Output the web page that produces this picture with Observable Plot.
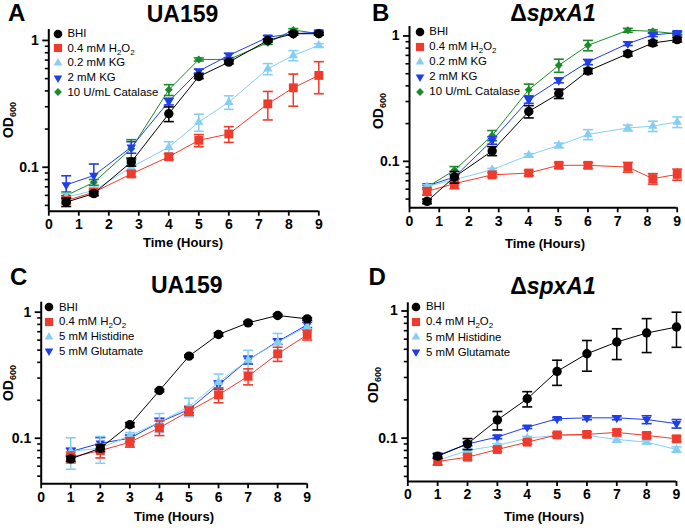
<!DOCTYPE html>
<html><head><meta charset="utf-8">
<script src="https://cdn.jsdelivr.net/npm/d3@7"></script>
<script src="https://cdn.jsdelivr.net/npm/@observablehq/plot@0.6"></script>
<style>
body{margin:0;background:#fff;}
#fig{position:relative;width:685px;height:530px;overflow:hidden;font-family:'Liberation Sans',Arial,Helvetica,sans-serif;color:#000;background:#fff;}
.panel{position:absolute;}
.txt{position:absolute;white-space:nowrap;line-height:1;}
.sub{font-size:8px;position:relative;top:3px;}
.ysub{font-size:9px;position:relative;top:3px;}
</style></head><body><div id="fig"></div>
<script>
// ---------- data ----------
const timesA = [0.58, 1.5, 2.75, 4, 5, 6, 7.3, 8.15, 9];
const timesB = [0.59, 1.51, 2.78, 4.01, 5.02, 6, 7.34, 8.18, 9];
const timesCD = [1, 2, 3, 4, 5, 6, 7, 8, 9];

const labelsAB = ["BHI", "0.4 mM H2O2", "0.2 mM KG", "2 mM KG", "10 U/mL Catalase"];
const labelsCD = ["BHI", "0.4 mM H2O2", "5 mM Histidine", "5 mM Glutamate"];
const colorsAB = ["#000000", "#ef3b2c", "#86cff2", "#1f3de8", "#1c8a2a"];
const colorsCD = ["#000000", "#ef3b2c", "#86cff2", "#1f3de8"];
const symbolsAB = ["circle", "square", "triangle", "triangle-down", "diamond"];
const symbolsCD = ["circle", "square", "triangle", "triangle-down"];

const titles = ["UA159", "\u0394<i>spxA1</i>", "UA159", "\u0394<i>spxA1</i>"];
const panelLetters = ["A", "B", "C", "D"];
const xLabel = "Time (Hours)";
const yLabel = "OD<span class='ysub'>600</span>";

const xTicks = [0, 1, 2, 3, 4, 5, 6, 7, 8, 9];
const yMajorTicks = [0.1, 1];
const yMajorLabels = ["0.1", "1"];
const yMinorTicks = [0.05, 0.06, 0.07, 0.08, 0.09, 0.2, 0.3, 0.4, 0.5, 0.6, 0.7, 0.8, 0.9];

// Panel A (UA159)
const aBHI     = [0.053, 0.062, 0.11, 0.264, 0.52, 0.674, 1.0, 1.13, 1.13];
const aBHIerr  = [0.004, 0.002, 0.008, 0.035, 0.02, 0.02, 0.03, 0.03, 0.03];
const aH2O2    = [0.0546, 0.0635, 0.0885, 0.121, 0.163, 0.183, 0.316, 0.423, 0.53];
const aH2O2err = [0.003, 0.004, 0.005, 0.006, 0.018, 0.026, 0.08, 0.12, 0.15];
const aKG02    = [0.058, 0.0655, 0.1, 0.144, 0.227, 0.326, 0.597, 0.762, 0.913];
const aKG02err = [0.004, 0.004, 0.006, 0.015, 0.035, 0.04, 0.06, 0.07, 0.03];
const aKG2     = [0.0726, 0.086, 0.144, 0.33, 0.573, 0.762, 1.06, 1.13, 1.16];
const aKG2err  = [0.013, 0.02, 0.015, 0.02, 0.02, 0.03, 0.03, 0.03, 0.04];
const aCat     = [0.0598, 0.076, 0.14, 0.408, 0.708, 0.708, 0.96, 1.21, 1.13];
const aCaterr  = [0.004, 0.004, 0.025, 0.04, 0.02, 0.02, 0.03, 0.03, 0.03];

// Panel B (ΔspxA1)
const bBHI     = [0.048, 0.075, 0.121, 0.25, 0.347, 0.526, 0.722, 0.879, 0.935];
const bBHIerr  = [0.002, 0.008, 0.01, 0.028, 0.03, 0.025, 0.03, 0.04, 0.04];
const bH2O2    = [0.0576, 0.0664, 0.078, 0.0807, 0.093, 0.093, 0.09, 0.0728, 0.0787];
const bH2O2err = [0.004, 0.006, 0.003, 0.004, 0.005, 0.005, 0.008, 0.007, 0.008];
const bKG02    = [0.063, 0.0714, 0.0858, 0.112, 0.134, 0.164, 0.1845, 0.191, 0.206];
const bKG02err = [0.002, 0.002, 0.002, 0.003, 0.006, 0.015, 0.01, 0.018, 0.02];
const bKG2     = [0.0636, 0.075, 0.147, 0.31, 0.443, 0.62, 0.869, 1.02, 1.06];
const bKG2err  = [0.002, 0.003, 0.01, 0.02, 0.02, 0.03, 0.03, 0.03, 0.03];
const bCat     = [0.0624, 0.0848, 0.161, 0.373, 0.583, 0.842, 1.11, 1.09, 1.04];
const bCaterr  = [0.002, 0.006, 0.015, 0.04, 0.07, 0.08, 0.04, 0.03, 0.03];

// Panel C (UA159)
const cBHI     = [0.0686, 0.0833, 0.128, 0.239, 0.448, 0.665, 0.823, 0.942, 0.885];
const cBHIerr  = [0.003, 0.005, 0.005, 0.005, 0.01, 0.02, 0.02, 0.02, 0.02];
const cH2O2    = [0.0707, 0.0798, 0.093, 0.121, 0.164, 0.221, 0.31, 0.467, 0.661];
const cH2O2err = [0.007, 0.01, 0.008, 0.016, 0.012, 0.03, 0.045, 0.06, 0.06];
const cHis     = [0.0788, 0.0833, 0.105, 0.134, 0.178, 0.278, 0.418, 0.578, 0.77];
const cHiserr  = [0.022, 0.02, 0.006, 0.023, 0.03, 0.045, 0.08, 0.1, 0.08];
const cGlu     = [0.0784, 0.0912, 0.1, 0.134, 0.169, 0.265, 0.418, 0.585, 0.794];
const cGluerr  = [0.005, 0.01, 0.006, 0.01, 0.01, 0.02, 0.03, 0.03, 0.04];

// Panel D (ΔspxA1)
const dBHI     = [0.0722, 0.0902, 0.139, 0.204, 0.335, 0.461, 0.57, 0.671, 0.748];
const dBHIerr  = [0.003, 0.009, 0.023, 0.028, 0.075, 0.125, 0.155, 0.2, 0.23];
const dH2O2    = [0.0655, 0.0708, 0.0814, 0.093, 0.106, 0.107, 0.111, 0.105, 0.0988];
const dH2O2err = [0.004, 0.003, 0.003, 0.003, 0.004, 0.005, 0.005, 0.005, 0.005];
const dHis     = [0.0667, 0.08, 0.0875, 0.1, 0.105, 0.105, 0.0977, 0.093, 0.0814];
const dHiserr  = [0.005, 0.003, 0.003, 0.003, 0.003, 0.003, 0.005, 0.003, 0.004];
const dGlu     = [0.073, 0.09, 0.102, 0.122, 0.142, 0.1445, 0.1445, 0.14, 0.13];
const dGluerr  = [0.003, 0.003, 0.003, 0.003, 0.003, 0.005, 0.005, 0.01, 0.01];

// ---------- layout ----------
const panels = [
  {left: 0,   top: 0,   w: 342, h: 265, mL: 48.3, mR: 23.7, mT: 29,   mB: 54.3, yDomain: [0.045, 1.22],
   times: timesA, labels: labelsAB, colors: colorsAB, symbols: symbolsAB,
   values: [aBHI, aH2O2, aKG02, aKG2, aCat], errors: [aBHIerr, aH2O2err, aKG02err, aKG2err, aCaterr],
   title: [182.5, 22.7], letter: [8, 21.5], xlab: [183, 247], ylab: [8, 120], legend: {sx: 58.3, tx: 67.5, y0: 33.5, dy: 14.7}},
  {left: 342, top: 0,   w: 343, h: 265, mL: 67,   mR: 8.3,  mT: 26,   mB: 57.7, yDomain: [0.0426, 1.19],
   times: timesB, labels: labelsAB, colors: colorsAB, symbols: symbolsAB,
   values: [bBHI, bH2O2, bKG02, bKG2, bCat], errors: [bBHIerr, bH2O2err, bKG02err, bKG2err, bCaterr],
   title: [553, 21.7], letter: [372, 21.5], xlab: [545, 248], ylab: [377.5, 111], legend: {sx: 419.5, tx: 429.3, y0: 32, dy: 15}},
  {left: 0,   top: 265, w: 342, h: 265, mL: 40.7, mR: 35.3, mT: 36.7, mB: 46.7, yDomain: [0.0435, 1.2],
   times: timesCD, labels: labelsCD, colors: colorsCD, symbols: symbolsCD,
   values: [cBHI, cH2O2, cHis, cGlu], errors: [cBHIerr, cH2O2err, cHiserr, cGluerr],
   title: [186.7, 293.3], letter: [10, 285.7], xlab: [174, 521.5], ylab: [8, 383], legend: {sx: 49.3, tx: 59, y0: 307.3, dy: 14.6}},
  {left: 342, top: 265, w: 343, h: 265, mL: 65.3, mR: 9,    mT: 37.3, mB: 49,   yDomain: [0.0456, 1.16],
   times: timesCD, labels: labelsCD, colors: colorsCD, symbols: symbolsCD,
   values: [dBHI, dH2O2, dHis, dGlu], errors: [dBHIerr, dH2O2err, dHiserr, dGluerr],
   title: [553, 294.3], letter: [368.5, 285.7], xlab: [544, 521.5], ylab: [373, 385], legend: {sx: 416, tx: 426, y0: 306.7, dy: 15.2}}
];

const fig = document.getElementById("fig");
const FONT = "'Liberation Sans', Arial, Helvetica, sans-serif";

const capSymbol = {
  draw(ctx, size) { const r = Math.sqrt(size / Math.PI); ctx.moveTo(-r, 0); ctx.lineTo(r, 0); }
};
const dataSym = {
  "circle": {symbol: "circle", r: 4.7, rotate: 0},
  "square": {symbol: "square", r: 5.0, rotate: 0},
  "triangle": {symbol: "triangle", r: 3.5, rotate: 0},
  "triangle-down": {symbol: "triangle", r: 3.5, rotate: 180},
  "diamond": {symbol: "diamond2", r: 3.6, rotate: 0}
};
const legSym = {
  "circle": {type: d3.symbolCircle, r: 4.3, rotate: 0},
  "square": {type: d3.symbolSquare, r: 4.6, rotate: 0},
  "triangle": {type: d3.symbolTriangle, r: 3.2, rotate: 0},
  "triangle-down": {type: d3.symbolTriangle, r: 3.2, rotate: 180},
  "diamond": {type: d3.symbolDiamond2, r: 3.5, rotate: 0}
};

function addText(html, x, baseline, size, opts = {}) {
  const d = document.createElement("div");
  d.className = "txt";
  d.innerHTML = html;
  d.style.fontSize = size + "px";
  d.style.fontWeight = opts.weight || "bold";
  d.style.left = x + "px";
  d.style.top = Math.max(0, baseline - 0.8465 * size) + "px";
  if (opts.center) d.style.transform = "translateX(-50%)";
  fig.appendChild(d);
  return d;
}

function labelHTML(s) {
  return s.replace("H2O2", "H<span class='sub'>2</span>O<span class='sub'>2</span>");
}

panels.forEach((p, pi) => {
  const marks = [];
  const n = p.labels.length;
  for (let k = n - 1; k >= 0; k--) {
    const rows = p.times.map((t, i) => ({t, v: p.values[k][i], e: p.errors[k][i]}));
    const col = p.colors[k];
    const sym = dataSym[p.symbols[k]];
    marks.push(
      Plot.ruleX(rows, {x: "t", y1: d => d.v - d.e, y2: d => d.v + d.e, stroke: col, strokeWidth: 1.5}),
      Plot.dot(rows, {x: "t", y: d => d.v + d.e, symbol: capSymbol, r: 5, stroke: col, strokeWidth: 1.6, fill: "none"}),
      Plot.dot(rows, {x: "t", y: d => d.v - d.e, symbol: capSymbol, r: 5, stroke: col, strokeWidth: 1.6, fill: "none"}),
      Plot.line(rows, {x: "t", y: "v", stroke: col, strokeWidth: 1}),
      Plot.dot(rows, {x: "t", y: "v", symbol: sym.symbol, r: sym.r, rotate: sym.rotate, fill: col, stroke: "none"})
    );
  }
  const chart = Plot.plot({
    width: p.w, height: p.h,
    marginLeft: p.mL, marginRight: p.mR, marginTop: p.mT, marginBottom: p.mB,
    style: {fontFamily: FONT, fontSize: "14px", fontWeight: "bold", background: "transparent", overflow: "visible", color: "#000"},
    x: {domain: [0, 9]},
    y: {type: "log", domain: p.yDomain},
    marks: [
      Plot.axisX({ticks: xTicks, tickSize: 5, tickPadding: 3, tickFormat: d => String(d), strokeWidth: 1.8, label: null, fontWeight: "bold", fontSize: 14}),
      Plot.axisY({ticks: yMinorTicks.filter(t => t > p.yDomain[0]), tickSize: 3.5, tickFormat: () => "", strokeWidth: 1.6, label: null}),
      Plot.axisY({ticks: yMajorTicks, tickSize: 6, tickPadding: 4, tickFormat: d => yMajorLabels[yMajorTicks.indexOf(d)], strokeWidth: 1.8, label: null, fontWeight: "bold", fontSize: 14}),
      ...marks,
      Plot.ruleX([0], {strokeWidth: 2}),
      Plot.ruleY([p.yDomain[0]], {strokeWidth: 2})
    ]
  });
  const wrap = document.createElement("div");
  wrap.className = "panel";
  wrap.style.left = p.left + "px";
  wrap.style.top = p.top + "px";
  wrap.appendChild(chart);
  fig.appendChild(wrap);

  // titles & labels
  addText(titles[pi], p.title[0], p.title[1], 23, {center: true});
  addText(panelLetters[pi], p.letter[0], p.letter[1], 24);
  addText(xLabel, p.xlab[0], p.xlab[1], 13, {center: true});
  const yl = document.createElement("div");
  yl.className = "txt";
  yl.innerHTML = yLabel;
  yl.style.fontSize = "14px";
  yl.style.fontWeight = "bold";
  yl.style.left = p.ylab[0] + "px";
  yl.style.top = p.ylab[1] + "px";
  yl.style.transform = "translate(-50%,-50%) rotate(-90deg)";
  fig.appendChild(yl);

  // legend
  p.labels.forEach((lab, k) => {
    const ry = p.legend.y0 + k * p.legend.dy;
    const ls = legSym[p.symbols[k]];
    const svg = d3.create("svg").attr("width", 14).attr("height", 14)
      .style("position", "absolute").style("left", (p.legend.sx - 7) + "px").style("top", (ry - 7) + "px");
    svg.append("path")
      .attr("d", d3.symbol(ls.type, Math.PI * ls.r * ls.r)())
      .attr("transform", `translate(7,7) rotate(${ls.rotate})`)
      .attr("fill", p.colors[k]);
    fig.appendChild(svg.node());
    const t = document.createElement("div");
    t.className = "txt";
    t.innerHTML = labelHTML(lab);
    t.style.fontSize = "11.4px";
    t.style.fontWeight = "normal";
    t.style.left = p.legend.tx + "px";
    t.style.top = (ry - 0.4885 * 11.4) + "px";
    fig.appendChild(t);
  });
});
</script>
</body></html>
